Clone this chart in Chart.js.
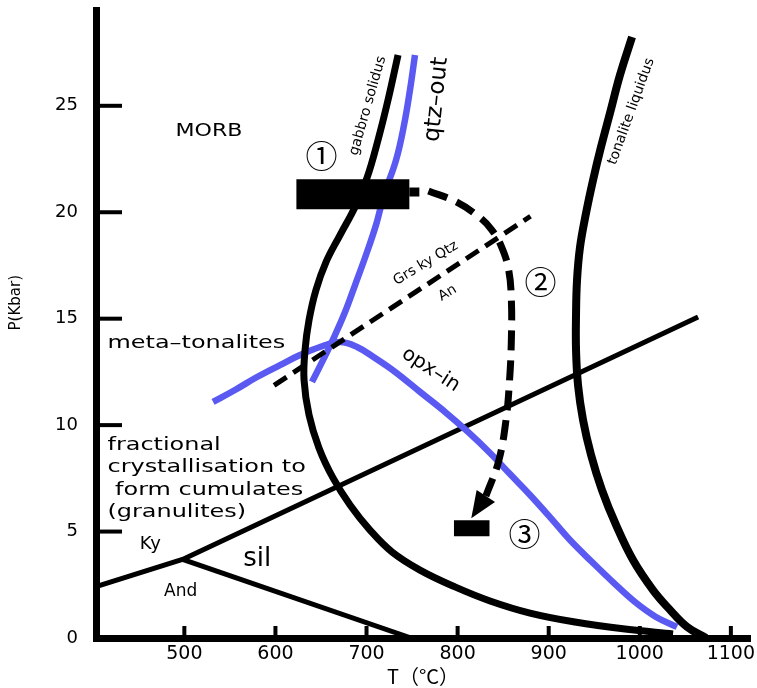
<!DOCTYPE html>
<html><head><meta charset="utf-8">
<script src="https://cdn.jsdelivr.net/npm/chart.js@4/dist/chart.umd.min.js"></script>
<style>html,body{margin:0;padding:0;background:#fff}#wrap{width:757px;height:688px}</style>
</head><body><div id="wrap"><canvas id="c" width="757" height="688"></canvas></div>
<script>
// ---- tick values ----
const xTicks = [500, 600, 700, 800, 900, 1000, 1100];
const yTicks = [0, 5, 10, 15, 20, 25];

// ---- curves (T in °C, P in kbar) ----
const gabbroT = [734.6, 723.6, 712.6, 700.5, 687.4, 670.9, 655.5, 644.5, 636.9, 632.5, 631.4, 636.9, 647.8, 663.2, 681.9, 703.8, 728, 758.7, 797.1, 835.6, 879.5, 928.9, 983.8, 1036.5];
const gabbroP = [27.39, 25.27, 23.39, 21.61, 20.25, 18.93, 17.66, 16.35, 14.94, 13.53, 12.12, 10.48, 8.93, 7.52, 6.25, 5.07, 4.04, 3.19, 2.40, 1.74, 1.17, 0.75, 0.42, 0.19];

const tonaliteT = [991.5, 978.3, 967.3, 957.4, 948.7, 941, 934.4, 931.1, 930, 930, 932.2, 937.7, 946.5, 958.5, 973.9, 992.6, 1014.5, 1033.2, 1051.9, 1072.7];
const tonaliteP = [28.23, 26.45, 24.66, 23.06, 21.51, 19.96, 18.37, 16.82, 15.17, 13.53, 11.88, 10.24, 8.60, 6.95, 5.31, 3.66, 2.25, 1.32, 0.52, 0];

const qtzOutT = [753.2, 747.7, 741.2, 732.4, 719.2, 710.4, 699.4, 687.4, 676.4, 665.4, 653.3, 640.1];
const qtzOutP = [27.39, 25.74, 24.10, 22.45, 20.81, 19.40, 17.99, 16.58, 15.31, 14.23, 13.15, 12.03];

const opxInT = [531.5, 555.6, 579.8, 605, 627, 648.9, 670.9, 689.6, 709.3, 731.3, 758.7, 786.2, 811.4, 835.6, 857.5, 879.5, 901.4, 923.4, 947.6, 971.7, 994.8, 1017.8, 1040.9];
const opxInP = [11.09, 11.65, 12.26, 12.82, 13.29, 13.67, 13.90, 13.67, 13.15, 12.50, 11.56, 10.62, 9.68, 8.69, 7.70, 6.72, 5.68, 4.60, 3.57, 2.58, 1.69, 0.99, 0.52];

const kySilT = [403, 498, 1064];
const kySilP = [2.41, 3.69, 15.08];
const silAndT = [498, 749];
const silAndP = [3.69, 0];

const grsT = [598.5, 880];
const grsP = [11.87, 19.81];

const pathT = [768, 798, 823, 837, 848, 856, 859, 859, 857, 853, 845, 831];
const pathP = [21.0, 20.5, 19.8, 19.2, 18.4, 17.3, 15.9, 14.0, 12.1, 10.2, 8.3, 6.67];
const arrowTipT = 815;
const arrowTipP = 5.63;

const box1T = [623, 747];
const box1P = [20.85, 20.85];
const nub1T = [747, 758];
const nub1P = [20.95, 20.95];
const box3T = [796, 835];
const box3P = [5.15, 5.15];

const BLUE = '#5a5af2';
const pts = (xs, ys) => xs.map((v, i) => ({x: v, y: ys[i]}));

const labels = [
  {text: 'MORB', T: 527, P: 23.8, size: 17, sx: 1.3},
  {text: '①', T: 650.6, P: 22.67, size: 32, fam: 'Noto Sans CJK JP'},
  {text: 'gabbro solidus', T: 701.5, P: 25.0, size: 14, rot: -74},
  {text: 'qtz\u2013out', T: 777, P: 25.3, size: 23, rot: -84},
  {text: 'tonalite liquidus', T: 990.7, P: 24.73, size: 14, rot: -70},
  {text: 'Grs ky Qtz', T: 765, P: 17.6, size: 14, rot: -31},
  {text: 'An', T: 789, P: 16.2, size: 14, rot: -31},
  {text: '②', T: 891, P: 16.74, size: 32, fam: 'Noto Sans CJK JP'},
  {text: 'opx\u2013in', T: 770.5, P: 12.6, size: 20, rot: 33},
  {text: 'meta\u2013tonalites', T: 415.6, P: 13.62, size: 18, sx: 1.33, align: 'left', base: 'alphabetic'},
  {text: 'fractional', T: 415.6, P: 8.82, size: 18, sx: 1.33, align: 'left', base: 'alphabetic'},
  {text: 'crystallisation to', T: 415.6, P: 7.78, size: 18, sx: 1.33, align: 'left', base: 'alphabetic'},
  {text: ' form cumulates', T: 415.6, P: 6.74, size: 18, sx: 1.33, align: 'left', base: 'alphabetic'},
  {text: '(granulites)', T: 415.6, P: 5.70, size: 18, sx: 1.33, align: 'left', base: 'alphabetic'},
  {text: 'Ky', T: 462.7, P: 4.4, size: 18},
  {text: 'And', T: 496, P: 2.17, size: 17},
  {text: 'sil', T: 580, P: 3.69, size: 26},
  {text: '③', T: 873.5, P: 4.87, size: 32, fam: 'Noto Sans CJK JP'}
];

const anno = {
  id: 'anno',
  beforeDatasetsDraw(chart) {
    const {ctx, scales: {x, y}} = chart;
    ctx.save();
    ctx.fillStyle = '#000';
    yTicks.forEach(v => { if (v === 0) return; const py = y.getPixelForValue(v); ctx.fillRect(x.left, py - 2, 26, 4); });
    xTicks.forEach(v => { const px = x.getPixelForValue(v); ctx.fillRect(px - 2, y.bottom - 12, 4, 12); });
    // y axis title
    ctx.save();
    ctx.translate(16, (y.getPixelForValue(15) + y.getPixelForValue(16.5)) / 2);
    ctx.rotate(-Math.PI / 2);
    ctx.font = '15px "DejaVu Sans"';
    ctx.textAlign = 'center';
    ctx.textBaseline = 'middle';
    ctx.fillText('P(Kbar)', 0, 0);
    ctx.restore();
    ctx.restore();
  },
  afterDatasetsDraw(chart) {
    const {ctx, scales: {x, y}} = chart;
    ctx.save();
    // arrow head
    const bx = x.getPixelForValue(pathT[pathT.length - 1]), by = y.getPixelForValue(pathP[pathP.length - 1]);
    const tx = x.getPixelForValue(arrowTipT), ty = y.getPixelForValue(arrowTipP);
    const dx = tx - bx, dy = ty - by, len = Math.hypot(dx, dy);
    const nx = -dy / len, ny = dx / len, W = 11;
    ctx.fillStyle = '#000';
    ctx.beginPath();
    ctx.moveTo(tx, ty);
    ctx.lineTo(bx + nx * W, by + ny * W);
    ctx.lineTo(bx - nx * W, by - ny * W);
    ctx.closePath();
    ctx.fill();
    // texts
    labels.forEach(l => {
      ctx.save();
      ctx.translate(x.getPixelForValue(l.T), y.getPixelForValue(l.P));
      ctx.rotate((l.rot || 0) * Math.PI / 180);
      ctx.scale(l.sx || 1, 1);
      ctx.font = `${l.size}px ${l.fam ? '"' + l.fam + '"' : '"DejaVu Sans"'}`;
      ctx.textAlign = l.align || 'center';
      ctx.textBaseline = l.base || 'middle';
      ctx.fillStyle = '#000';
      ctx.fillText(l.text, 0, 0);
      ctx.restore();
    });
    ctx.restore();
  }
};

const line = (data, color, width, extra) => Object.assign({
  data, showLine: true, borderColor: color, backgroundColor: color, borderWidth: width,
  pointRadius: 0, pointHoverRadius: 0, fill: false, tension: 0, borderJoinStyle: 'round'
}, extra || {});
const smooth = {tension: 0.4};
const zeroPad = s => { s.paddingTop = 0; s.paddingBottom = 0; s.paddingLeft = 0; s.paddingRight = 0; };

new Chart(document.getElementById('c'), {
  type: 'scatter',
  data: {
    datasets: [
      line(pts(box1T, box1P), '#000', 30, {borderCapStyle: 'butt', order: 0}),
      line(pts(nub1T, nub1P), '#000', 9, {borderCapStyle: 'butt', order: 0}),
      line(pts(box3T, box3P), '#000', 16, {borderCapStyle: 'butt', order: 0}),
      line(pts(pathT, pathP), '#000', 7, Object.assign({borderDash: [20, 10], order: 1}, smooth)),
      line(pts(grsT, grsP), '#000', 5, {borderDash: [15, 8], order: 2}),
      line(pts(gabbroT, gabbroP), '#000', 7, Object.assign({order: 3}, smooth)),
      line(pts(qtzOutT, qtzOutP), BLUE, 6.5, Object.assign({order: 4}, smooth)),
      line(pts(opxInT, opxInP), BLUE, 6.5, Object.assign({order: 4}, smooth)),
      line(pts(tonaliteT, tonaliteP), '#000', 8, Object.assign({order: 3}, smooth)),
      line(pts(kySilT, kySilP), '#000', 5, {order: 5}),
      line(pts(silAndT, silAndP), '#000', 5, {order: 5})
    ]
  },
  options: {
    responsive: false, animation: false, devicePixelRatio: 1,
    layout: {padding: {left: 0, right: 7, top: 10, bottom: 0}},
    plugins: {legend: {display: false}, tooltip: {enabled: false}},
    scales: {
      x: {
        type: 'linear', position: 'bottom', min: 403, max: 1121,
        afterBuildTicks: s => { s.ticks = xTicks.map(v => ({value: v})); },
        afterFit: s => { s.height = 50; zeroPad(s); },
        grid: {display: false, drawTicks: false},
        border: {display: true, color: '#000', width: 7},
        ticks: {color: '#000', padding: 5, font: {family: 'DejaVu Sans', size: 19}, maxRotation: 0, autoSkip: false, callback: v => String(v)},
        title: {display: true, text: 'T（°C）', color: '#000', font: {family: 'Noto Sans CJK JP', size: 20}, padding: {top: 0, bottom: 0}}
      },
      y: {
        type: 'linear', position: 'left', min: 0, max: 29.5,
        afterBuildTicks: s => { s.ticks = yTicks.map(v => ({value: v})); },
        afterFit: s => { s.width = 96; zeroPad(s); },
        grid: {display: false, drawTicks: false},
        border: {display: true, color: '#000', width: 7},
        ticks: {color: '#000', padding: 18, font: {family: 'DejaVu Sans', size: 18}, autoSkip: false, callback: v => String(v)},
        title: {display: false}
      }
    }
  },
  plugins: [anno]
});
</script></body></html>
